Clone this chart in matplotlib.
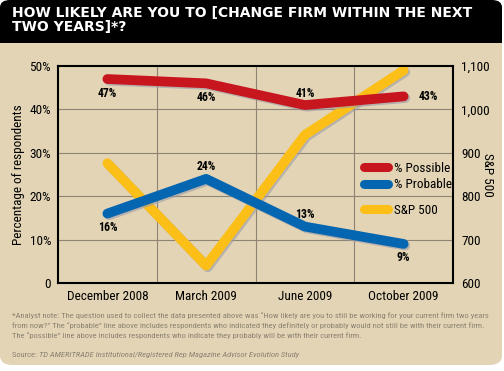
import matplotlib.pyplot as plt
import matplotlib.patheffects as pe
from matplotlib.patches import FancyBboxPatch, Rectangle
from matplotlib.lines import Line2D
from matplotlib.ticker import FuncFormatter

# data
periods = ['December 2008', 'March 2009', 'June 2009', 'October 2009']
pct_possible = [47, 46, 41, 43]
pct_probable = [16, 24, 13, 9]
sp500 = [876, 640, 941, 1090]

title = 'HOW LIKELY ARE YOU TO [CHANGE FIRM WITHIN THE NEXT\nTWO YEARS]*?'
note = ('*Analyst note: The question used to collect the data presented above was \u201cHow likely are you to still be working for your current firm two years\n'
        'from now?\u201d The \u201cprobable\u201d line above includes respondents who indicated they definitely or probably would not still be with their current firm.\n'
        'The \u201cpossible\u201d line above includes respondents who indicate they probably will be with their current firm.')
source = 'TD AMERITRADE Institutional/Registered Rep Magazine Advisor Evolution Study'

RED = '#c8161f'
BLUE = '#0466b0'
YELLOW = '#fcbf17'
BEIGE = '#e2d4b5'
GRID = '#8f8474'
NOTE = '#8d8272'
NARROW = ['Roboto Condensed', 'DejaVu Sans']

W, H = 504, 371
fig = plt.figure(figsize=(W / 100, H / 100), dpi=100, facecolor='white')

# background panel + title bar
fig.patches.append(FancyBboxPatch((0, 6 / H), 502 / W, (H - 11) / H, boxstyle='round,pad=0,rounding_size=0.025',
                                  transform=fig.transFigure, fc=BEIGE, ec='none', zorder=0))
fig.patches.append(FancyBboxPatch((0, (H - 43) / H), 502 / W, 43 / H, boxstyle='round,pad=0,rounding_size=0.02',
                                  transform=fig.transFigure, fc='black', ec='none', zorder=1))
fig.patches.append(Rectangle((0, (H - 43) / H), 502 / W, 20 / H, transform=fig.transFigure,
                             fc='black', ec='none', zorder=1))
fig.text(12 / W, 1 - 6 / H, title, color='white', fontsize=10, fontweight='bold', va='top', ha='left',
         linespacing=1.0, family=['DejaVu Sans'])

ax_pos = [58 / W, 88 / H, 395 / W, 217 / H]
ax = fig.add_axes(ax_pos, zorder=3)
ax.set_facecolor('none')
ax.set_xlim(-0.5, 3.5)
ax.set_ylim(0, 50)
ax.set_yticks(range(0, 51, 10))
ax.yaxis.set_major_formatter(FuncFormatter(lambda v, p: '0' if v == 0 else f'{v:.0f}%'))
ax.set_xticks(range(len(periods)))
ax.set_xticklabels(periods)
ax.tick_params(length=0, labelsize=9.5, pad=5)
for lab in ax.get_xticklabels() + ax.get_yticklabels():
    lab.set_family(NARROW)
for s in ax.spines.values():
    s.set_linewidth(1.5)
    s.set_color('black')
ax.set_ylabel('Percentage of respondents', fontsize=9.5, family=NARROW, labelpad=3)

# S&P axis sits underneath so the survey lines draw on top
ax2 = fig.add_axes(ax_pos, zorder=2)
ax2.set_facecolor('none')
ax2.set_xlim(-0.5, 3.5)
ax2.set_ylim(600, 1100)
ax2.set_yticks(range(600, 1101, 100))
ax2.yaxis.tick_right()
ax2.yaxis.set_label_position('right')
ax2.set_xticks([])
ax2.yaxis.set_major_formatter(FuncFormatter(lambda v, p: f'{v:,.0f}'))
ax2.tick_params(length=0, labelsize=9.5, pad=6)
for lab in ax2.get_yticklabels():
    lab.set_family(NARROW)
ax2.set_ylabel('S&P 500', fontsize=9.5, family=NARROW, rotation=-90, labelpad=3, va='top')
for s in ax2.spines.values():
    s.set_visible(False)
for y in range(700, 1100, 100):
    ax2.axhline(y, color=GRID, lw=0.8, zorder=1)
for xv in [0.5, 1.5, 2.5]:
    ax2.axvline(xv, color=GRID, lw=0.8, zorder=1)

shadow = [pe.SimpleLineShadow(offset=(1.2, -1.2), shadow_color='#9a9aa8', alpha=0.6), pe.Normal()]
x = range(len(periods))
ax2.plot(x, sp500, color=YELLOW, lw=7, solid_capstyle='round', solid_joinstyle='round',
         path_effects=shadow, zorder=3)
ax.plot(x, pct_possible, color=RED, lw=7, solid_capstyle='round', solid_joinstyle='round',
        path_effects=shadow, zorder=4)
ax.plot(x, pct_probable, color=BLUE, lw=7, solid_capstyle='round', solid_joinstyle='round',
        path_effects=shadow, zorder=4)

# value labels
poss_off = [(0, -14), (0, -14), (0, 12), (25, 0)]
prob_off = [(0, -14), (0, 12), (0, 12), (0, -14)]
lab_font = dict(fontsize=8.5, fontweight='bold', family=NARROW, ha='center', va='center', zorder=6)
for i, v in enumerate(pct_possible):
    ax.annotate(f'{v}%', (i, v), xytext=poss_off[i], textcoords='offset pixels', **lab_font)
for i, v in enumerate(pct_probable):
    ax.annotate(f'{v}%', (i, v), xytext=prob_off[i], textcoords='offset pixels', **lab_font)

h1 = Line2D([], [], color=RED, lw=6.5, solid_capstyle='round')
h2 = Line2D([], [], color=BLUE, lw=6.5, solid_capstyle='round')
h3 = Line2D([], [], color=YELLOW, lw=6.5, solid_capstyle='round')
leg_kw = dict(frameon=False, handlelength=1.8, handletextpad=0.5, prop={'family': NARROW, 'size': 9.5},
              labelspacing=0.25, borderaxespad=0, borderpad=0)
leg1 = ax.legend([h1, h2], ['% Possible', '% Probable'], loc='upper left',
                 bbox_to_anchor=(306 / 395, 121 / 217), **leg_kw)
ax.add_artist(leg1)
ax.legend([h3], ['S&P 500'], loc='upper left', bbox_to_anchor=(306 / 395, 79 / 217), **leg_kw)

fig.text(12 / W, 1 - 312 / H, note, color=NOTE, fontsize=6.1, va='top', ha='left', family=NARROW,
         linespacing=1.55)
t_src = fig.text(12 / W, 1 - 355 / H, 'Source: ', color=NOTE, fontsize=6.1, va='center', ha='left', family=NARROW)
fig.canvas.draw()
bb = t_src.get_window_extent()
fig.text(bb.x1 / W, 1 - 355 / H, source, color=NOTE, fontsize=6.1, va='center', ha='left', family=NARROW,
         style='italic')

fig.savefig('out.png', dpi=100, facecolor='white')
